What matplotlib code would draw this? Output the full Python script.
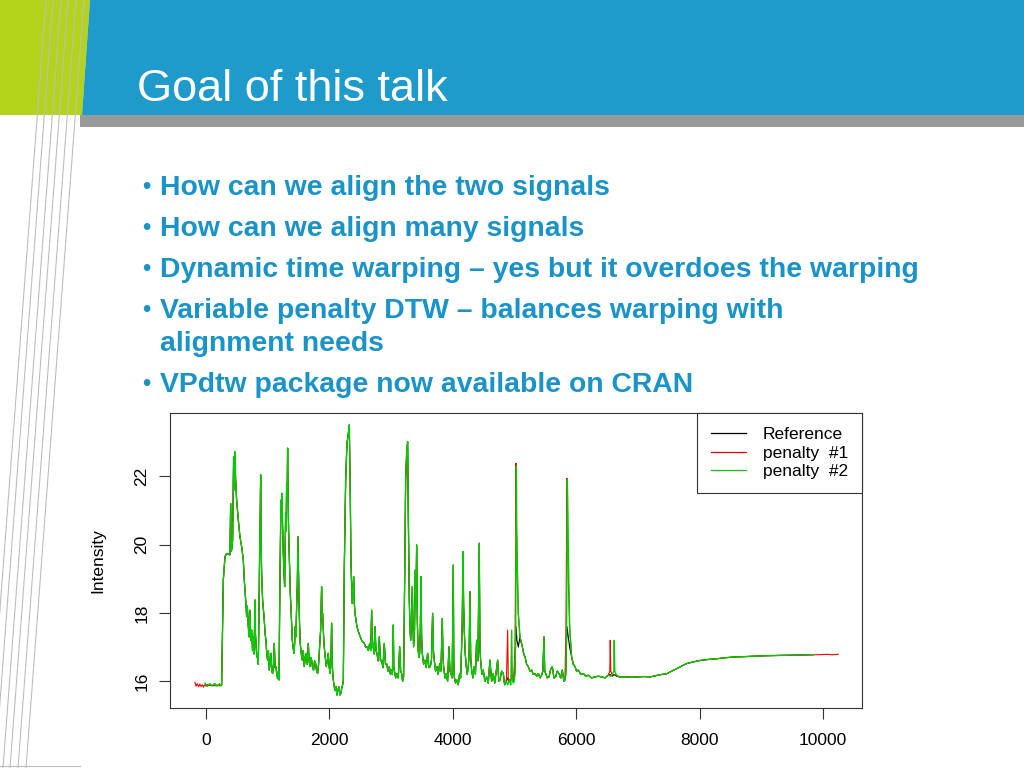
import matplotlib
matplotlib.use("Agg")
import matplotlib.pyplot as plt

plt.rcParams['font.family'] = ['Liberation Sans', 'DejaVu Sans']

# ---- slide texts
title = "Goal of this talk"
bullets = [
    ["How can we align the two signals"],
    ["How can we align many signals"],
    ["Dynamic time warping \u2013 yes but it overdoes the warping"],
    ["Variable penalty DTW \u2013 balances warping with", "alignment needs"],
    ["VPdtw package now available on CRAN"],
]

# ---- chart texts
series_names = ["Reference", "penalty  #1", "penalty  #2"]
series_colors = ["#000000", "#FF0000", "#00CD00"]
series_widths = [0.8, 0.8, 1.0]
x_ticks = [0, 2000, 4000, 6000, 8000, 10000]
y_ticks = [16, 18, 20, 22]
y_label = "Intensity"

# ---- signal as (index, intensity) points
# start of each signal
ref_start = [(0, 15.9), (120, 15.88), (240, 15.89)]
pen1_start = [(-178, 15.97), (-160, 15.86), (-140, 15.93), (-120, 15.84), (-100, 15.92),
              (-80, 15.85), (-60, 15.9), (-40, 15.83), (-20, 15.9), (0, 15.86),
              (60, 15.88), (120, 15.87), (180, 15.88), (240, 15.87)]
pen2_start = [(-16, 15.95), (20, 15.86), (60, 15.93), (100, 15.87), (140, 15.94),
              (180, 15.86), (220, 15.93), (245, 15.87)]

# common part, 250 .. 4860
seg_a = [
    (254, 15.89), (265, 17.1), (281, 18.96), (308, 19.65), (335, 19.74), (362, 19.72),
    (389, 19.7), (400, 21.2), (408, 19.8), (416, 19.84), (432, 20.13), (448, 22.57),
    (457, 21.6), (465, 22.72), (481, 21.89), (497, 21.3), (524, 20.72), (551, 20.23),
    (578, 19.94), (605, 19.55), (621, 18.96), (643, 18.38), (659, 17.89), (670, 18.2),
    (686, 17.6), (700, 17.3), (713, 18.08), (725, 17.2), (740, 17.5), (755, 16.9),
    (767, 17.3), (780, 16.8), (794, 18.38), (802, 17.4), (810, 17.1), (825, 16.7),
    (837, 16.82), (848, 16.5), (859, 17.99), (868, 19.5), (875, 20.33), (880, 21.0),
    (886, 22.04), (894, 20.2), (902, 19.16), (918, 18.38), (930, 18.1), (945, 17.79),
    (958, 17.4), (972, 17.2), (985, 16.8), (999, 16.62), (1012, 16.9), (1026, 16.33),
    (1040, 16.6), (1053, 16.82), (1066, 16.3), (1080, 16.23), (1094, 16.5), (1107, 17.11),
    (1120, 16.4), (1134, 16.43), (1148, 16.2), (1161, 16.08), (1175, 16.3), (1183, 16.04),
    (1199, 18.96), (1215, 21.3), (1223, 20.8), (1231, 21.5), (1242, 20.5), (1253, 19.74),
    (1264, 19.2), (1275, 18.77), (1283, 19.8), (1291, 20.92), (1299, 20.4), (1307, 21.79),
    (1315, 21.2), (1323, 22.82), (1331, 21.4), (1339, 20.43), (1348, 19.8), (1356, 19.16),
    (1366, 18.6), (1377, 18.18), (1388, 17.7), (1399, 17.2), (1412, 17.0), (1426, 16.82),
    (1437, 17.1), (1447, 17.6), (1458, 17.3), (1469, 18.18), (1480, 18.8), (1491, 20.23),
    (1499, 19.2), (1507, 18.38), (1518, 17.6), (1528, 17.1), (1545, 16.8), (1561, 16.62),
    (1577, 16.9), (1593, 16.43), (1610, 16.7), (1626, 16.82), (1642, 16.5), (1658, 17.11),
    (1672, 16.6), (1685, 16.43), (1698, 16.7), (1712, 16.62), (1728, 16.4), (1744, 16.33),
    (1760, 16.6), (1777, 16.52), (1793, 16.3), (1809, 16.23), (1825, 16.5), (1842, 17.01),
    (1858, 17.5), (1874, 18.77), (1882, 17.9), (1890, 17.99), (1904, 17.4), (1917, 17.01),
    (1933, 16.7), (1950, 16.43), (1966, 16.6), (1982, 16.82), (1998, 16.4), (2014, 16.23),
    (2025, 16.6), (2036, 17.7), (2047, 16.5), (2058, 16.13), (2074, 15.9), (2090, 15.74),
    (2106, 15.85), (2122, 15.6), (2138, 15.75), (2155, 15.84), (2171, 15.6), (2187, 15.65),
    (2200, 15.8), (2214, 15.89), (2226, 16.04), (2242, 19.35), (2264, 21.89), (2285, 22.96),
    (2307, 23.25), (2323, 23.5), (2339, 21.4), (2350, 19.45), (2361, 18.8), (2372, 18.28),
    (2382, 18.6), (2393, 19.06), (2404, 18.3), (2415, 17.99), (2431, 17.8), (2447, 17.6),
    (2463, 17.5), (2480, 17.4), (2501, 17.3), (2523, 17.2), (2545, 17.15), (2566, 17.11),
    (2588, 17.0), (2609, 17.01), (2631, 16.9), (2653, 17.11), (2670, 16.9), (2685, 18.08),
    (2696, 17.0), (2707, 17.11), (2723, 16.8), (2739, 17.6), (2755, 16.9), (2771, 16.82),
    (2790, 16.6), (2809, 17.3), (2828, 16.6), (2847, 16.62), (2868, 16.4), (2890, 17.11),
    (2909, 16.5), (2928, 16.52), (2950, 16.3), (2971, 16.43), (2990, 16.2), (3009, 16.33),
    (3022, 16.2), (3036, 17.65), (3044, 16.4), (3052, 16.33), (3074, 16.1), (3095, 16.23),
    (3117, 16.1), (3139, 17.01), (3155, 16.3), (3171, 16.23), (3187, 16.0), (3203, 16.13),
    (3212, 17.5), (3220, 18.96), (3236, 21.89), (3252, 22.67), (3268, 23.01), (3279, 20.92),
    (3295, 18.38), (3306, 17.6), (3317, 17.2), (3330, 17.8), (3344, 18.77), (3355, 17.6),
    (3365, 17.01), (3380, 17.5), (3392, 19.25), (3403, 18.2), (3414, 19.99), (3425, 17.8),
    (3436, 17.01), (3450, 16.7), (3463, 16.82), (3474, 17.5), (3484, 19.06), (3495, 17.3),
    (3506, 16.82), (3527, 16.5), (3549, 16.62), (3570, 16.4), (3592, 16.82), (3613, 16.4),
    (3635, 16.43), (3654, 16.6), (3673, 17.99), (3686, 16.9), (3700, 16.62), (3721, 16.3),
    (3743, 16.43), (3765, 16.2), (3787, 16.52), (3808, 16.3), (3830, 17.84), (3840, 16.8),
    (3851, 16.43), (3873, 16.1), (3895, 16.23), (3916, 16.0), (3938, 17.01), (3954, 16.3),
    (3970, 16.23), (3990, 16.1), (4008, 19.4), (4016, 16.6), (4024, 16.13), (4045, 15.95),
    (4067, 16.04), (4089, 15.9), (4111, 16.23), (4127, 16.1), (4143, 17.01), (4154, 17.8),
    (4165, 19.79), (4176, 18.2), (4186, 17.5), (4202, 16.8), (4219, 16.43), (4235, 16.2),
    (4251, 16.43), (4265, 16.8), (4278, 18.62), (4290, 16.7), (4305, 16.33), (4326, 16.1),
    (4348, 16.43), (4367, 16.2), (4386, 17.2), (4408, 16.6), (4429, 20.04), (4440, 17.0),
    (4451, 16.62), (4472, 16.2), (4494, 16.33), (4521, 16.0), (4548, 16.13), (4575, 15.95),
    (4602, 16.62), (4629, 16.0), (4656, 16.23), (4680, 15.95), (4705, 16.3), (4727, 16.62),
    (4745, 16.0), (4765, 16.04), (4792, 16.3), (4819, 16.23), (4840, 15.9), (4857, 15.94),
]

# peak near 5000, differs per signal
ref_p1 = [(4889, 16.1), (4922, 16.0), (4954, 16.1), (4986, 16.0), (5008, 16.3),
          (5024, 17.6), (5040, 17.2), (5062, 17.0)]
pen1_p1 = [(4870, 16.1), (4889, 17.5), (4900, 16.0), (4922, 16.04), (4954, 16.1),
           (4986, 16.04), (5008, 17.01), (5018, 19.5), (5024, 22.38), (5032, 20.5),
           (5040, 19.94), (5062, 17.99)]
pen2_p1 = [(4870, 16.0), (4889, 15.9), (4922, 16.04), (4940, 15.9), (4954, 17.5),
           (4966, 16.0), (4986, 15.95), (5008, 16.2), (5020, 17.5), (5030, 22.3),
           (5036, 20.6), (5050, 18.8), (5062, 17.99)]

seg_b = [
    (5089, 17.3), (5127, 17.01), (5150, 16.8), (5170, 16.72), (5197, 16.5), (5224, 16.43),
    (5251, 16.3), (5278, 16.33), (5305, 16.2), (5332, 16.23), (5359, 16.15), (5386, 16.23),
    (5413, 16.1), (5440, 16.18), (5460, 16.3), (5478, 17.3), (5490, 16.3), (5505, 16.23),
    (5532, 16.1), (5559, 16.13), (5586, 16.35), (5613, 16.43), (5640, 16.1), (5667, 16.13),
    (5694, 16.3), (5721, 16.23), (5748, 16.1), (5775, 16.33), (5800, 16.0), (5818, 16.04),
]

# peak near 5850
ref_p2 = [(5834, 16.3), (5850, 17.6), (5872, 17.3), (5894, 17.0)]
pen1_p2 = [(5834, 17.6), (5850, 21.94), (5860, 20.0), (5872, 18.96), (5894, 17.6)]
pen2_p2 = [(5834, 16.2), (5846, 18.0), (5856, 21.9), (5866, 20.9), (5880, 19.0), (5894, 17.6)]

seg_c = [
    (5926, 16.72), (5953, 16.5), (5980, 16.43), (6007, 16.3), (6034, 16.33), (6075, 16.2),
    (6115, 16.23), (6156, 16.15), (6196, 16.18), (6250, 16.1), (6304, 16.13), (6358, 16.15),
    (6412, 16.13), (6466, 16.1), (6520, 16.18),
]

# small spike near 6600
ref_p3 = [(6552, 16.2), (6585, 16.15), (6617, 16.2), (6655, 16.15)]
pen1_p3 = [(6545, 16.3), (6552, 17.2), (6560, 16.3), (6585, 16.18), (6617, 16.2), (6655, 16.18)]
pen2_p3 = [(6552, 16.15), (6585, 16.2), (6610, 16.3), (6617, 17.2), (6625, 16.3), (6655, 16.18)]

seg_d = [
    (6700, 16.13), (6736, 16.13), (6818, 16.13), (6900, 16.12), (7000, 16.13), (7100, 16.14),
    (7196, 16.13), (7300, 16.17), (7380, 16.2), (7466, 16.22), (7550, 16.3), (7628, 16.37),
    (7710, 16.45), (7790, 16.52), (7900, 16.57), (8006, 16.61), (8140, 16.64), (8276, 16.66),
    (8410, 16.69), (8546, 16.71), (8680, 16.72), (8816, 16.73), (8950, 16.74), (9086, 16.75),
    (9220, 16.755), (9356, 16.76), (9490, 16.765), (9626, 16.77), (9740, 16.775), (9842, 16.78),
]
pen1_end = [(9950, 16.78), (10050, 16.79), (10150, 16.78), (10247, 16.79)]

ref_pts = ref_start + seg_a + ref_p1 + seg_b + ref_p2 + seg_c + ref_p3 + seg_d
pen1_pts = pen1_start + seg_a + pen1_p1 + seg_b + pen1_p2 + seg_c + pen1_p3 + seg_d + pen1_end
pen2_pts = pen2_start + seg_a + pen2_p1 + seg_b + pen2_p2 + seg_c + pen2_p3 + seg_d

# ---- figure
fig = plt.figure(figsize=(10.24, 7.68), dpi=100)
fig.patch.set_facecolor('white')

# slide background in pixel coordinates
bg = fig.add_axes([0, 0, 1, 1])
bg.set_xlim(0, 1024)
bg.set_ylim(768, 0)
bg.axis('off')

bg.fill([0, 90, 82, 0], [0, 0, 115, 115], color='#B4D31B', lw=0)
bg.fill([90, 1024, 1024, 82], [0, 0, 115, 115], color='#1E9BCB', lw=0)
bg.fill([80, 1024, 1024, 80], [115, 115, 127, 127], color='#999999', lw=0)

tops = [46, 53, 61, 68, 76, 84]
for t in tops:
    bg.plot([t, t - 58], [0, 768], color='#bdbdbd', lw=0.8)
bg.plot([0, 80], [766, 766], color='#bdbdbd', lw=0.8)

bg.text(137, 101, title, color='white', fontsize=32.5, va='baseline', ha='left')

blue = '#1A93C8'
yb = 195
for lines in bullets:
    bg.text(142, yb - 2, "\u2022", color=blue, fontsize=17, fontweight='bold', va='baseline')
    for j, ln in enumerate(lines):
        bg.text(160, yb + 33 * j, ln, color=blue, fontsize=20.4, fontweight='bold', va='baseline')
    yb += 41 + 33 * (len(lines) - 1)

# ---- chart
ax = fig.add_axes([170 / 1024, (768 - 708) / 768, (862 - 170) / 1024, (708 - 413) / 768])
ax.set_facecolor('white')

for pts, name, col, w in zip([ref_pts, pen1_pts, pen2_pts], series_names, series_colors, series_widths):
    xs = [p[0] for p in pts]
    ys = [p[1] for p in pts]
    ax.plot(xs, ys, color=col, lw=w, label=name)

ax.set_xlim(-583, 10632)
ax.set_ylim(15.22, 23.85)
ax.set_xticks(x_ticks)
ax.set_yticks(y_ticks)
ax.tick_params(direction='out', length=8, width=0.8, labelsize=12.5, color='#333333')
ax.tick_params(axis='x', pad=10)
ax.tick_params(axis='y', pad=7, labelrotation=90)
for lab in ax.get_yticklabels():
    lab.set_va('center')
for s in ax.spines.values():
    s.set_linewidth(0.8)
    s.set_color('#333333')
ax.set_ylabel(y_label, fontsize=12.5, labelpad=21)

leg = ax.legend(loc='upper right', borderaxespad=0, fancybox=False, edgecolor='#333333',
                framealpha=1, fontsize=12.5, handlelength=2.0, handletextpad=1.0,
                borderpad=0.8, labelspacing=0.2)
leg.get_frame().set_linewidth(0.8)
for h in leg.get_lines():
    h.set_linewidth(0.9)

fig.savefig('out.png', dpi=100)
